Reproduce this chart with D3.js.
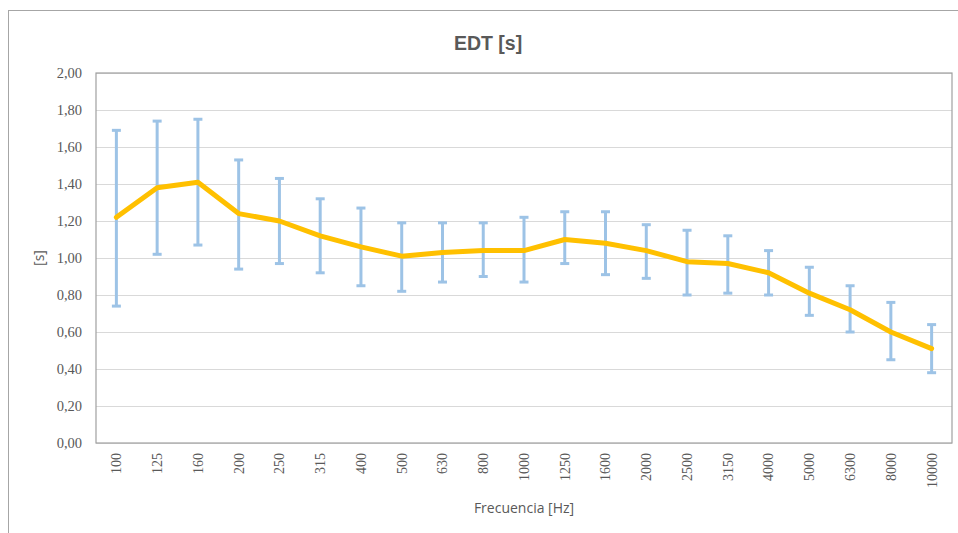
<!DOCTYPE html>
<html>
<head>
<meta charset="utf-8">
<script src="https://cdn.jsdelivr.net/npm/d3@7"></script>
<style>
	body { margin: 0; background: #fff; }
	.tick-y, .tick-x { font-family: "Liberation Serif", "Times New Roman", serif; fill: #595959; }
	.axis-title { font-family: "Open Sans", sans-serif; fill: #595959; }
</style>
</head>
<body>
<div id="chart"></div>
<script>
	// Frecuencias (bandas de tercio de octava)
	var categories = ["100", "125", "160", "200", "250", "315", "400", "500", "630", "800", "1000",
		"1250", "1600", "2000", "2500", "3150", "4000", "5000", "6300", "8000", "10000"];

	// EDT medio [s]
	var edt = [1.22, 1.38, 1.41, 1.24, 1.20, 1.12, 1.06, 1.01, 1.03, 1.04, 1.04,
		1.10, 1.08, 1.04, 0.98, 0.97, 0.92, 0.81, 0.72, 0.60, 0.51];

	// limites de las barras de error
	var upper = [1.69, 1.74, 1.75, 1.53, 1.43, 1.32, 1.27, 1.19, 1.19, 1.19, 1.22,
		1.25, 1.25, 1.18, 1.15, 1.12, 1.04, 0.95, 0.85, 0.76, 0.64];
	var lower = [0.74, 1.02, 1.07, 0.94, 0.97, 0.92, 0.85, 0.82, 0.87, 0.90, 0.87,
		0.97, 0.91, 0.89, 0.80, 0.81, 0.80, 0.69, 0.60, 0.45, 0.38];

	var yTicks = [0, 0.2, 0.4, 0.6, 0.8, 1.0, 1.2, 1.4, 1.6, 1.8, 2.0];

	var W = 958, H = 533;
	var margin = { top: 73, right: 6, bottom: 90, left: 96 };
	var width = W - margin.left - margin.right;
	var height = H - margin.top - margin.bottom;

	var svg = d3.select("#chart").append("svg")
		.attr("width", W)
		.attr("height", H);

	// chart border (goes past the window on the right and bottom)
	svg.append("rect")
		.attr("x", 8.5).attr("y", 10.5)
		.attr("width", 1000).attr("height", 600)
		.attr("fill", "none")
		.attr("stroke", "#a6a6a6");

	svg.append("text")
		.attr("x", 488).attr("y", 50)
		.attr("text-anchor", "middle")
		.style("font-family", "'Liberation Sans', Arial, sans-serif")
		.style("font-weight", "bold")
		.style("font-size", "19.5px")
		.style("fill", "#595959")
		.text("EDT [s]");

	var g = svg.append("g")
		.attr("transform", "translate(" + margin.left + "," + margin.top + ")");

	var x = d3.scaleBand().domain(categories).range([0, width]).padding(0);
	var y = d3.scaleLinear().domain([0, 2]).range([height, 0]);
	var cx = function (i) { return x(categories[i]) + x.bandwidth() / 2; };
	var fmt = function (v) { return d3.format(".2f")(v).replace(".", ","); };

	// gridlines
	g.append("g")
		.attr("class", "grid")
		.call(d3.axisLeft(y).tickValues(yTicks).tickSize(-width).tickFormat(""))
		.call(function (s) {
			s.select(".domain").remove();
			s.selectAll("line").attr("stroke", "#d9d9d9").attr("stroke-width", 1);
		});

	// plot frame
	g.append("rect")
		.attr("x", 0).attr("y", 0)
		.attr("width", width).attr("height", height)
		.attr("fill", "none")
		.attr("stroke", "#a0a0a0")
		.attr("stroke-width", 1.2);

	// y axis labels
	g.append("g")
		.call(d3.axisLeft(y).tickValues(yTicks).tickSize(0).tickPadding(14).tickFormat(fmt))
		.call(function (s) {
			s.select(".domain").remove();
			s.selectAll("text").attr("class", "tick-y").style("font-size", "14.5px")
				.attr("font-family", null);
		});

	// x axis labels
	g.append("g")
		.attr("transform", "translate(0," + height + ")")
		.call(d3.axisBottom(x).tickSize(0))
		.call(function (s) {
			s.select(".domain").remove();
			s.selectAll("text")
				.attr("class", "tick-x")
				.attr("font-family", null)
				.style("font-size", "14px")
				.attr("transform", "rotate(-90)")
				.attr("x", -10)
				.attr("y", 0)
				.attr("dy", "0.35em")
				.style("text-anchor", "end");
		});

	// axis titles
	g.append("text")
		.attr("class", "axis-title")
		.attr("x", 428).attr("y", 440)
		.attr("text-anchor", "middle")
		.style("font-size", "14px")
		.text("Frecuencia [Hz]");

	g.append("text")
		.attr("class", "axis-title")
		.attr("transform", "translate(-52," + (height / 2) + ") rotate(-90)")
		.attr("text-anchor", "middle")
		.style("font-size", "14px")
		.text("[s]");

	// error bars
	var err = g.append("g").attr("class", "errbars")
		.attr("stroke", "#9dc3e6")
		.attr("stroke-width", 3);
	var cap = 4.5;
	categories.forEach(function (c, i) {
		err.append("line")
			.attr("x1", cx(i)).attr("x2", cx(i))
			.attr("y1", y(upper[i])).attr("y2", y(lower[i]));
		err.append("line")
			.attr("x1", cx(i) - cap).attr("x2", cx(i) + cap)
			.attr("y1", y(upper[i])).attr("y2", y(upper[i]));
		err.append("line")
			.attr("x1", cx(i) - cap).attr("x2", cx(i) + cap)
			.attr("y1", y(lower[i])).attr("y2", y(lower[i]));
	});

	// EDT line
	var line = d3.line()
		.x(function (d, i) { return cx(i); })
		.y(function (d) { return y(d); });

	g.append("path")
		.datum(edt)
		.attr("fill", "none")
		.attr("stroke", "#ffc000")
		.attr("stroke-width", 5)
		.attr("stroke-linejoin", "round")
		.attr("stroke-linecap", "round")
		.attr("d", line);
</script>
</body>
</html>
